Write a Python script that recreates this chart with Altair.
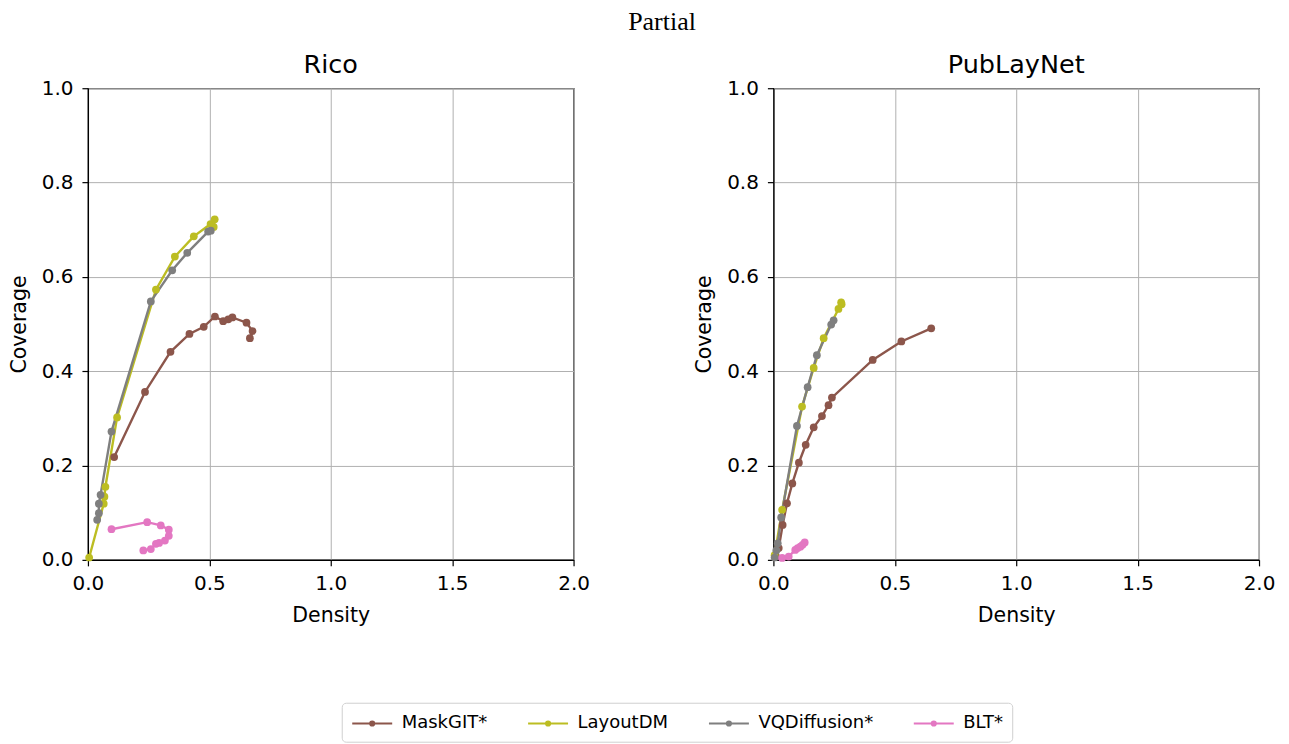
import altair as alt
import pandas as pd

models = ["MaskGIT*", "LayoutDM", "VQDiffusion*", "BLT*"]
colors = ["#8c564b", "#bcbd22", "#7f7f7f", "#e377c2"]
datasets = ["Rico", "PubLayNet"]

# Rico
rico_maskgit_x = [0.108, 0.235, 0.340, 0.418, 0.477, 0.523, 0.557, 0.578, 0.595, 0.653, 0.678, 0.667]
rico_maskgit_y = [0.218, 0.356, 0.441, 0.479, 0.494, 0.516, 0.506, 0.510, 0.514, 0.503, 0.485, 0.470]
rico_layoutdm_x = [0.005, 0.065, 0.068, 0.072, 0.120, 0.280, 0.358, 0.436, 0.505, 0.522, 0.518]
rico_layoutdm_y = [0.005, 0.119, 0.134, 0.155, 0.302, 0.573, 0.643, 0.686, 0.712, 0.722, 0.706]
rico_vqdiff_x = [0.038, 0.045, 0.045, 0.052, 0.097, 0.259, 0.347, 0.409, 0.495, 0.506]
rico_vqdiff_y = [0.085, 0.099, 0.119, 0.138, 0.272, 0.548, 0.614, 0.651, 0.696, 0.698]
rico_blt_x = [0.097, 0.244, 0.300, 0.333, 0.333, 0.317, 0.293, 0.280, 0.259, 0.228]
rico_blt_y = [0.065, 0.080, 0.073, 0.064, 0.051, 0.041, 0.036, 0.034, 0.023, 0.020]

# PubLayNet
pub_maskgit_x = [0.010, 0.022, 0.038, 0.056, 0.078, 0.105, 0.133, 0.166, 0.200, 0.227, 0.241, 0.409, 0.527, 0.650]
pub_maskgit_y = [0.008, 0.025, 0.074, 0.120, 0.162, 0.206, 0.244, 0.281, 0.305, 0.328, 0.344, 0.424, 0.463, 0.491]
pub_layoutdm_x = [0.005, 0.036, 0.118, 0.166, 0.207, 0.268, 0.279, 0.281]
pub_layoutdm_y = [0.010, 0.106, 0.325, 0.407, 0.470, 0.532, 0.546, 0.542]
pub_vqdiff_x = [0.005, 0.012, 0.018, 0.032, 0.097, 0.141, 0.179, 0.238, 0.248]
pub_vqdiff_y = [0.005, 0.020, 0.035, 0.090, 0.284, 0.366, 0.434, 0.499, 0.508]
pub_blt_x = [0.036, 0.063, 0.090, 0.100, 0.111, 0.120, 0.129]
pub_blt_y = [0.004, 0.007, 0.021, 0.025, 0.028, 0.032, 0.037]

series = {
    ("Rico", "MaskGIT*"): (rico_maskgit_x, rico_maskgit_y),
    ("Rico", "LayoutDM"): (rico_layoutdm_x, rico_layoutdm_y),
    ("Rico", "VQDiffusion*"): (rico_vqdiff_x, rico_vqdiff_y),
    ("Rico", "BLT*"): (rico_blt_x, rico_blt_y),
    ("PubLayNet", "MaskGIT*"): (pub_maskgit_x, pub_maskgit_y),
    ("PubLayNet", "LayoutDM"): (pub_layoutdm_x, pub_layoutdm_y),
    ("PubLayNet", "VQDiffusion*"): (pub_vqdiff_x, pub_vqdiff_y),
    ("PubLayNet", "BLT*"): (pub_blt_x, pub_blt_y),
}

rows = []
for (ds, m), (xs, ys) in series.items():
    for i, (x, y) in enumerate(zip(xs, ys)):
        rows.append({"dataset": ds, "model": m, "order": i, "density": x, "coverage": y})
df = pd.DataFrame(rows)

FONT = "DejaVu Sans"
legend_path = "M-1,0H3M1.2,0A0.2,0.2 0 1 1 0.8,0A0.2,0.2 0 1 1 1.2,0Z"

x_enc = alt.X("density:Q", title="Density",
              scale=alt.Scale(domain=[0, 2], nice=False, zero=False),
              axis=alt.Axis(values=[0, 0.5, 1.0, 1.5, 2.0], format=".1f",
                            labelFlush=False, labelPadding=8, titlePadding=12))
y_enc = alt.Y("coverage:Q", title="Coverage",
              scale=alt.Scale(domain=[0, 1], nice=False),
              axis=alt.Axis(values=[0, 0.2, 0.4, 0.6, 0.8, 1.0], format=".1f",
                            labelFlush=False, labelPadding=9, titlePadding=12))

legend = alt.Legend(
    title=None, orient="none", direction="horizontal", columns=4,
    legendX=254, legendY=615,
    symbolType=legend_path, symbolSize=400, symbolStrokeWidth=2.2,
    labelFont=FONT, labelFontSize=18, labelColor="black", labelOffset=28, columnPadding=36,
    strokeColor="#d0d0d0", cornerRadius=4, padding=9, fillColor="white",
)


def panel(ds):
    base = alt.Chart(df).transform_filter(alt.datum.dataset == ds)
    lines = base.mark_line(strokeWidth=2.4).encode(
        x=x_enc, y=y_enc,
        stroke=alt.Stroke("model:N", scale=alt.Scale(domain=models, range=colors), legend=legend),
        detail="model:N",
        order="order:Q",
    )
    pts = base.mark_point(filled=True, size=60, opacity=1).encode(
        x=x_enc, y=y_enc,
        fill=alt.Fill("model:N", scale=alt.Scale(domain=models, range=colors), legend=legend),
    )
    return alt.layer(lines, pts).properties(
        width=486, height=472,
        title=alt.TitleParams(ds, font=FONT, fontSize=25.5, fontWeight="normal", offset=0),
    )


chart = alt.hconcat(panel("Rico"), panel("PubLayNet"), spacing=103).properties(
    title=alt.TitleParams("Partial", font="Liberation Serif", fontSize=26, fontWeight="normal",
                          anchor="middle", offset=17, dx=20),
    padding={"left": 0, "top": 0, "right": 5, "bottom": 5},
).configure_view(stroke="black", strokeWidth=1.2).configure_axis(
    labelFont=FONT, labelFontSize=20, labelColor="black",
    titleFont=FONT, titleFontSize=20.5, titleFontWeight="normal", titleColor="black",
    gridColor="#b0b0b0", gridWidth=1, gridOpacity=1,
    domainColor="black", domainWidth=1.2, tickColor="black", tickSize=6, tickWidth=1.2,
).configure_title(color="black")

chart.save("out.html", embed_options={"renderer": "svg", "actions": False})
